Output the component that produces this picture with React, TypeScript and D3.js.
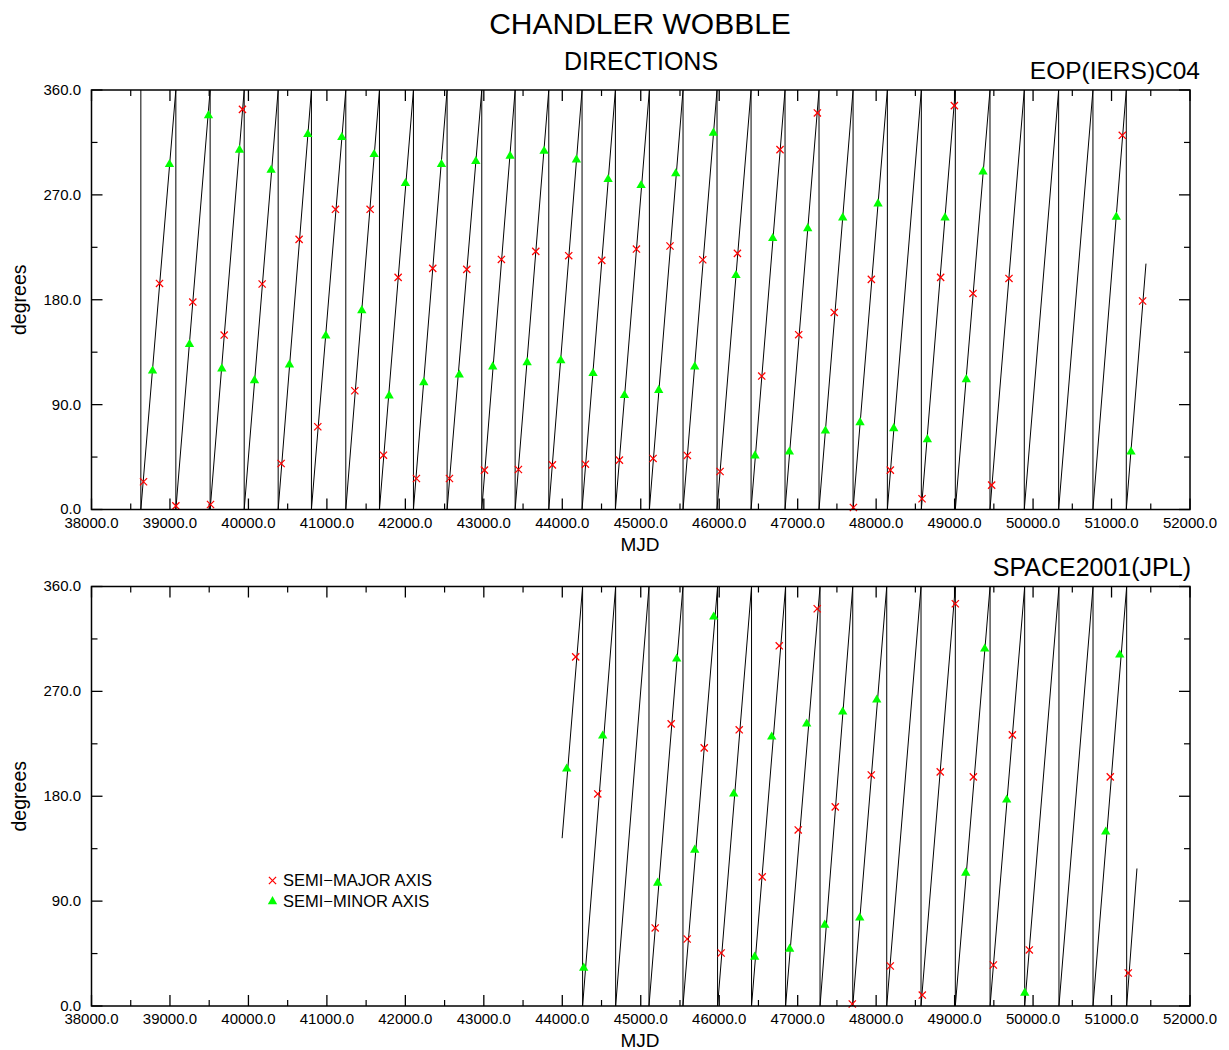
import React from "react";
import * as d3 from "d3";

// ---------- DATA ----------
const xDomain = [38000, 52000];
const yDomain = [0, 360];
const xTickValues = [38000, 39000, 40000, 41000, 42000, 43000, 44000, 45000, 46000, 47000, 48000, 49000, 50000, 51000, 52000];
const yTickValues = [0, 90, 180, 270, 360];

// MJDs where the direction wraps from 360 back to 0
const wrapsTop = [38629, 39075, 39512, 39946, 40379, 40803, 41241, 41670, 42103, 42532, 42974, 43399, 43828, 44252, 44677, 45110, 45539, 45972, 46406, 46839, 47272, 47706, 48143, 48576, 49009, 49451, 49888, 50326, 50763, 51188];
const topLineStart: [number, number] = [38629, 360];
const topLineEnd: [number, number] = [51439, 211];

const wrapsBottom = [44259, 44680, 45105, 45538, 45979, 46412, 46846, 47285, 47702, 48135, 48572, 49009, 49452, 49893, 50330, 50764, 51193];
const bottomLineStart: [number, number] = [43998, 144];
const bottomLineEnd: [number, number] = [51324, 118];

const majorTop: [number, number][] = [
  [38663, 23.8], [38867, 194.0], [39075, 3.1], [39291, 178.0], [39517, 4.3], [39691, 149.7], [39924, 343.4],
  [40175, 193.5], [40417, 39.5], [40646, 231.8], [40884, 71.0], [41109, 257.6], [41356, 101.9], [41551, 257.6],
  [41721, 46.6], [41908, 199.2], [42141, 26.6], [42349, 206.9], [42562, 26.6], [42783, 206.1], [43008, 33.8],
  [43224, 214.6], [43441, 34.3], [43662, 221.5], [43874, 38.3], [44082, 217.8], [44295, 38.9], [44503, 213.8],
  [44728, 42.4], [44945, 223.5], [45157, 43.8], [45373, 226.1], [45594, 46.4], [45790, 214.3], [46011, 32.6],
  [46232, 219.8], [46542, 114.5], [46775, 308.8], [47013, 150.0], [47251, 340.3], [47466, 169.1], [47710, 1.7],
  [47939, 197.5], [48181, 33.8], [48585, 9.2], [48822, 199.2], [48997, 346.6], [49234, 185.4], [49472, 20.9],
  [49693, 198.3], [51137, 321.1], [51396, 178.9],
];
const minorTop: [number, number][] = [
  [38778, 119.0], [38994, 296.2], [39249, 141.7], [39491, 338.0], [39661, 120.8], [39886, 308.5], [40077, 110.7],
  [40289, 291.3], [40523, 124.2], [40757, 321.9], [40986, 149.1], [41190, 319.4], [41445, 170.8], [41602, 304.8],
  [41793, 97.6], [42001, 279.9], [42235, 109.0], [42460, 296.2], [42687, 115.6], [42898, 298.8], [43114, 122.5],
  [43335, 303.3], [43552, 126.2], [43768, 307.6], [43981, 127.9], [44180, 300.2], [44392, 116.8], [44584, 283.3],
  [44792, 97.9], [45004, 278.2], [45229, 102.4], [45446, 288.2], [45688, 122.5], [45926, 323.1], [46214, 200.9],
  [46456, 46.1], [46682, 232.7], [46894, 49.5], [47128, 241.2], [47353, 67.5], [47574, 250.4], [47795, 74.7],
  [48024, 262.4], [48224, 69.5], [48653, 60.1], [48878, 250.4], [49149, 111.6], [49362, 289.9], [51061, 251.0],
  [51248, 49.5],
];

const majorBottom: [number, number][] = [
  [44171, 299.6], [44452, 182.0], [45184, 67.0], [45388, 242.1], [45592, 57.5], [45809, 221.5], [46025, 45.5],
  [46255, 237.0], [46548, 110.8], [46765, 309.1], [47007, 151.1], [47249, 340.9], [47479, 170.9], [47696, 1.7],
  [47938, 198.3], [48180, 34.3], [48588, 9.4], [48817, 200.9], [49009, 345.2], [49239, 196.6], [49494, 35.2],
  [49736, 232.7], [49952, 48.1], [50984, 196.6], [51213, 28.3],
];
const minorBottom: [number, number][] = [
  [44056, 203.5], [44273, 32.6], [44515, 231.8], [45216, 105.6], [45458, 297.9], [45688, 133.9], [45930, 334.0],
  [46185, 182.0], [46452, 42.1], [46669, 231.0], [46898, 48.9], [47115, 242.1], [47345, 69.5], [47574, 252.4],
  [47791, 75.6], [48008, 262.7], [49142, 114.2], [49384, 306.5], [49664, 176.9], [49894, 11.2], [50926, 149.4],
  [51105, 301.4],
];

const titleText = "CHANDLER WOBBLE";
const subtitleText = "DIRECTIONS";
const panelTitles = ["EOP(IERS)C04", "SPACE2001(JPL)"];
const legendLabels = ["SEMI\u2212MAJOR AXIS", "SEMI\u2212MINOR AXIS"];

// ---------- LAYOUT ----------
const W = 1229;
const H = 1050;
const left = 91.5;
const right = 1190;
const plotH = 419.5;
const panelTops = [90, 586.5];
const panelTitleRight = [1200, 1191];
const panelTitleSize = [24.5, 25];
const FONT = "'Liberation Sans', Arial, Helvetica, sans-serif";

function buildLine(start: [number, number], wraps: number[], end: [number, number]): [number, number][] {
  const pts: [number, number][] = [start];
  wraps.forEach((w) => {
    pts.push([w, 360]);
    pts.push([w, 0]);
  });
  pts.push(end);
  return pts;
}

function Cross({ cx, cy }: { cx: number; cy: number }) {
  const r = 3.6;
  return (
    <path
      d={`M${cx - r},${cy - r}L${cx + r},${cy + r}M${cx - r},${cy + r}L${cx + r},${cy - r}`}
      stroke="#ff0000"
      strokeWidth={1.25}
      fill="none"
    />
  );
}

function Panel({
  idx,
  line,
  major,
  minor,
  legend,
}: {
  idx: number;
  line: [number, number][];
  major: [number, number][];
  minor: [number, number][];
  legend: boolean;
}) {
  const top = panelTops[idx];
  const x = d3.scaleLinear().domain(xDomain).range([left, right]);
  const y = d3.scaleLinear().domain(yDomain).range([top + plotH, top]);
  const bottom = top + plotH;
  const path = d3
    .line<[number, number]>()
    .x((d) => x(d[0]))
    .y((d) => y(d[1]))(line) as string;
  const tri = d3.symbol().type(d3.symbolTriangle).size(38)() as string;
  const minorX = d3.range(38500, 52000, 1000);
  const minorY = d3.range(45, 360, 90);
  return (
    <g>
      {/* ticks */}
      {xTickValues.map((v) => (
        <g key={"xt" + v}>
          <line x1={x(v)} x2={x(v)} y1={bottom} y2={bottom - 11} stroke="#000" strokeWidth={1.3} />
          <line x1={x(v)} x2={x(v)} y1={top} y2={top + 11} stroke="#000" strokeWidth={1.3} />
          <text x={x(v)} y={bottom + 18} textAnchor="middle" fontSize={15} fontFamily={FONT}>
            {v.toFixed(1)}
          </text>
        </g>
      ))}
      {minorX.map((v) => (
        <g key={"xm" + v}>
          <line x1={x(v)} x2={x(v)} y1={bottom} y2={bottom - 6} stroke="#000" strokeWidth={1.2} />
          <line x1={x(v)} x2={x(v)} y1={top} y2={top + 6} stroke="#000" strokeWidth={1.2} />
        </g>
      ))}
      {yTickValues.map((v) => (
        <g key={"yt" + v}>
          <line x1={left} x2={left + 11} y1={y(v)} y2={y(v)} stroke="#000" strokeWidth={1.3} />
          <line x1={right} x2={right - 11} y1={y(v)} y2={y(v)} stroke="#000" strokeWidth={1.3} />
          <text x={81} y={y(v)} dy="0.33em" textAnchor="end" fontSize={15} fontFamily={FONT}>
            {v.toFixed(1)}
          </text>
        </g>
      ))}
      {minorY.map((v) => (
        <g key={"ym" + v}>
          <line x1={left} x2={left + 6} y1={y(v)} y2={y(v)} stroke="#000" strokeWidth={1.2} />
          <line x1={right} x2={right - 6} y1={y(v)} y2={y(v)} stroke="#000" strokeWidth={1.2} />
        </g>
      ))}
      {/* data line */}
      <path d={path} fill="none" stroke="#000" strokeWidth={1} />
      {/* markers */}
      {major.map((d, i) => (
        <Cross key={"mj" + i} cx={x(d[0])} cy={y(d[1])} />
      ))}
      {minor.map((d, i) => (
        <path key={"mn" + i} d={tri} transform={`translate(${x(d[0])},${y(d[1])})`} fill="#00ff00" />
      ))}
      {/* frame */}
      <rect x={left} y={top} width={right - left} height={plotH} fill="none" stroke="#000" strokeWidth={1.5} />
      {/* labels */}
      <text x={panelTitleRight[idx]} y={top - 11} textAnchor="end" fontSize={panelTitleSize[idx]} fontFamily={FONT}>
        {panelTitles[idx]}
      </text>
      <text x={640} y={bottom + 41} textAnchor="middle" fontSize={19} fontFamily={FONT}>
        MJD
      </text>
      <text transform={`translate(26,${top + plotH / 2}) rotate(-90)`} textAnchor="middle" fontSize={19.5} fontFamily={FONT}>
        degrees
      </text>
      {legend && (
        <g>
          <Cross cx={272.5} cy={880.5} />
          <path d={tri} transform="translate(272.5,901.5)" fill="#00ff00" />
          <text x={283} y={886} fontSize={16.5} fontFamily={FONT}>
            {legendLabels[0]}
          </text>
          <text x={283} y={906.5} fontSize={16.5} fontFamily={FONT}>
            {legendLabels[1]}
          </text>
        </g>
      )}
    </g>
  );
}

export default function App() {
  const topLine = buildLine(topLineStart, wrapsTop, topLineEnd);
  const bottomLine = buildLine(bottomLineStart, wrapsBottom, bottomLineEnd);
  return (
    <svg width={W} height={H} style={{ position: "absolute", left: 0, top: 0, background: "#fff" }}>
      <rect x={0} y={0} width={W} height={H} fill="#fff" />
      <text x={640} y={34} textAnchor="middle" fontSize={30} fontFamily={FONT}>
        {titleText}
      </text>
      <text x={641} y={70} textAnchor="middle" fontSize={25} fontFamily={FONT}>
        {subtitleText}
      </text>
      <Panel idx={0} line={topLine} major={majorTop} minor={minorTop} legend={false} />
      <Panel idx={1} line={bottomLine} major={majorBottom} minor={minorBottom} legend={true} />
    </svg>
  );
}
